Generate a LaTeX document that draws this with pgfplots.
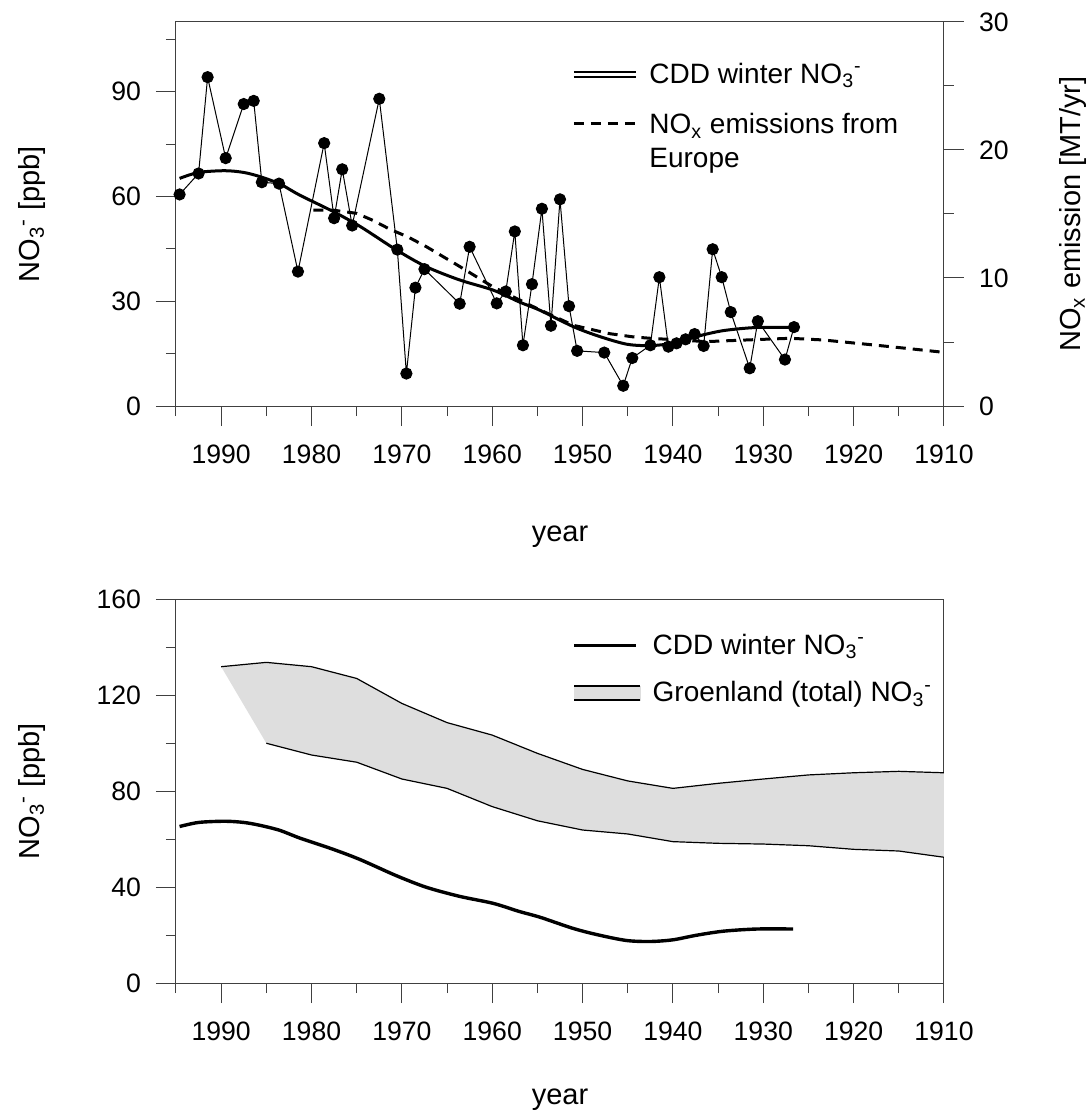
\documentclass[border=0pt]{standalone}
\usepackage{fontspec}
\setmainfont{Liberation Sans}
\usepackage{pgfplots}
\pgfplotsset{compat=1.18}
\begin{document}
\begin{tikzpicture}
\useasboundingbox (0,0) rectangle (545.5pt,-558.5pt);
\pgfplotsset{
  base/.style={
    scale only axis, width=384pt, height=192pt,
    x dir=reverse, xmin=1910, xmax=1995,
    xtick={1910,1920,...,1990}, minor xtick={1915,1925,...,1995},
    tick align=outside, major tick length=10pt, minor tick length=5pt,
    every tick/.append style={black!75, line width=0.5pt},
    axis line style={black!75, line width=0.5pt},
    xtick pos=bottom, ytick pos=left,
    tick label style={font=\fontsize{13.3}{16}\selectfont},
    xticklabel style={yshift=-6pt},
    yticklabel style={xshift=-4pt},
    label style={font=\fontsize{14.5}{17}\selectfont},
    xlabel={year},
    xlabel style={at={(axis description cs:0.5,0)}, anchor=center, yshift=-65.5pt},
    ylabel style={at={(axis description cs:0,0.5)}, anchor=center, yshift=72pt},
    /pgf/number format/assume math mode=true,
    /pgf/number format/1000 sep={},
    legend style={draw=none, fill=none, inner sep=0pt, legend cell align=left,
      font=\fontsize{14}{17}\selectfont, row sep=8pt,
      nodes={inner sep=2pt},
      /tikz/every odd column/.append style={column sep=4pt}},
  }
}
% ---------------- top panel ----------------
\begin{axis}[base, at={(88pt,-11pt)}, anchor=north west,
  ymin=0, ymax=110, ytick={0,30,60,90}, minor ytick={15,45,75,105},
  ylabel={NO\textsubscript{3}\textsuperscript{-} [ppb]},
  legend style={at={(axis description cs:0.5156,0.905)}, anchor=north west}]
\addplot[black, line width=0.5pt, mark=*, mark size=2.8pt, mark options={fill=black}, forget plot] coordinates {
(1994.6,60.6) (1992.5,66.6) (1991.5,94.2) (1989.5,71.0) (1987.5,86.5) (1986.4,87.4)
(1985.5,64.1) (1983.6,63.7) (1981.5,38.5) (1978.6,75.3) (1977.5,53.8) (1976.6,67.8)
(1975.5,51.7) (1972.5,88.0) (1970.5,44.8) (1969.5,9.3) (1968.5,33.9) (1967.5,39.2)
(1963.6,29.3) (1962.5,45.6) (1959.5,29.4) (1958.5,32.8) (1957.5,50.0) (1956.6,17.4)
(1955.6,34.9) (1954.5,56.5) (1953.5,23.0) (1952.5,59.2) (1951.5,28.6) (1950.6,15.8)
(1947.6,15.3) (1945.5,5.8) (1944.5,13.75) (1942.5,17.4) (1941.5,36.9) (1940.5,17.0)
(1939.6,17.95) (1938.6,19.1) (1937.6,20.6) (1936.6,17.2) (1935.6,44.9) (1934.6,36.9)
(1933.6,26.9) (1931.5,10.8) (1930.6,24.3) (1927.6,13.3) (1926.6,22.6)};
\addplot[black, line width=1.5pt, smooth, forget plot] coordinates {
(1994.6,65.2) (1992.5,66.9) (1989.6,67.4) (1987.5,66.9) (1985.7,65.7) (1983.5,63.6)
(1981.3,60.4) (1977.6,55.7) (1974.6,51.4) (1970.6,44.7) (1967.3,39.9) (1963.6,36.1)
(1959.9,33.2) (1957.0,29.8) (1954.7,27.4) (1951.0,22.7) (1948.1,19.9) (1945.1,17.7)
(1942.5,17.3) (1940.0,18.0) (1937.4,19.9) (1934.4,21.6) (1930.7,22.5) (1926.7,22.5)};
\addlegendimage{legend image code/.code={
  \draw[line width=1.1pt] (0pt,1.4pt)--(31pt,1.4pt);
  \draw[line width=0.7pt] (0pt,-1.2pt)--(31pt,-1.2pt);}}
\addlegendentry{CDD winter NO\textsubscript{3}\textsuperscript{-}}
\addlegendimage{legend image code/.code={
  \draw[line width=1.5pt, dash pattern=on 5pt off 3.5pt] (0pt,0pt)--(31pt,0pt);}}
\addlegendentry{\begin{tabular}[t]{@{}l@{}}NO\textsubscript{x} emissions from\\Europe\end{tabular}}
\end{axis}
\begin{axis}[scale only axis, width=384pt, height=192pt, at={(88pt,-11pt)}, anchor=north west,
  x dir=reverse, xmin=1910, xmax=1995, axis x line=none,
  axis y line*=right, ymin=0, ymax=30, ytick={0,10,20,30}, minor ytick={5,15,25},
  tick align=outside, major tick length=10pt, minor tick length=5pt,
  every tick/.append style={black!75, line width=0.5pt},
  axis line style={black!75, line width=0.5pt},
  tick label style={font=\fontsize{13.3}{16}\selectfont},
  yticklabel style={xshift=4pt},
  /pgf/number format/assume math mode=true,
  ylabel={NO\textsubscript{x} emission [MT/yr]},
  ylabel style={font=\fontsize{14.5}{17}\selectfont, at={(axis description cs:1,0.5)}, anchor=center, yshift=-64.5pt}]
\addplot[black, line width=1.5pt, dash pattern=on 5pt off 3.5pt] coordinates {
(1979.8,15.3) (1977.6,15.3) (1975,15.05) (1973.2,14.5) (1971.3,13.8) (1969.3,13.2)
(1967.3,12.45) (1963.6,10.9) (1959.9,9.3) (1955,7.6) (1951,6.3) (1947,5.65) (1944.4,5.4)
(1942.5,5.29) (1936.3,5.03) (1931.8,5.16) (1927,5.29) (1923.4,5.16) (1917.8,4.77)
(1914.1,4.5) (1910,4.19)};
\end{axis}
% ---------------- bottom panel ----------------
\begin{axis}[base, at={(88pt,-299.5pt)}, anchor=north west,
  ymin=0, ymax=160, ytick={0,40,...,160}, minor ytick={20,60,100,140},
  xlabel style={yshift=7pt},
  ylabel={NO\textsubscript{3}\textsuperscript{-} [ppb]},
  legend style={at={(axis description cs:0.5156,0.92)}, anchor=north west}]
\addplot[fill=black!13, draw=none, forget plot] coordinates {
(1990,131.8) (1985,133.6) (1980,131.8) (1975,126.9) (1970,116.5) (1965,108.5) (1960,103.3)
(1955,95.7) (1950,89.0) (1945,84.2) (1940,81.1) (1935,83.2) (1930,85.0) (1925,86.7)
(1920,87.6) (1915,88.2) (1910,87.6)
(1910,52.4) (1915,55) (1920,55.7) (1925,57.2) (1930,57.9) (1935,58.2) (1940,58.9)
(1945,62.1) (1950,63.75) (1955,67.6) (1960,73.5) (1965,81.1) (1970,85) (1975,92)
(1980,95) (1985,99.9)} -- cycle;
\addplot[black, line width=0.6pt, forget plot] coordinates {
(1990,131.8) (1985,133.6) (1980,131.8) (1975,126.9) (1970,116.5) (1965,108.5) (1960,103.3)
(1955,95.7) (1950,89.0) (1945,84.2) (1940,81.1) (1935,83.2) (1930,85.0) (1925,86.7)
(1920,87.6) (1915,88.2) (1910,87.6)};
\addplot[black, line width=0.6pt, forget plot] coordinates {
(1985,99.9) (1980,95) (1975,92) (1970,85) (1965,81.1) (1960,73.5) (1955,67.6)
(1950,63.75) (1945,62.1) (1940,58.9) (1935,58.2) (1930,57.9) (1925,57.2) (1920,55.7)
(1915,55) (1910,52.4)};
\addplot[black, line width=1.7pt, smooth, forget plot] coordinates {
(1994.6,65.2) (1992.5,66.9) (1989.6,67.4) (1987.5,66.9) (1985.7,65.7) (1983.5,63.6)
(1981.3,60.4) (1977.6,55.7) (1974.6,51.4) (1970.6,44.7) (1967.3,39.9) (1963.6,36.1)
(1959.9,33.2) (1957.0,29.8) (1954.7,27.4) (1951.0,22.7) (1948.1,19.9) (1945.1,17.7)
(1942.5,17.3) (1940.0,18.0) (1937.4,19.9) (1934.4,21.6) (1930.7,22.5) (1926.7,22.5)};
\addlegendimage{legend image code/.code={
  \draw[line width=1.7pt] (0pt,0pt)--(31pt,0pt);}}
\addlegendentry{CDD winter NO\textsubscript{3}\textsuperscript{-}}
\addlegendimage{legend image code/.code={
  \fill[black!13] (0pt,-3.5pt) rectangle (33pt,3.5pt);
  \draw[line width=0.6pt] (0pt,3.5pt)--(33pt,3.5pt);
  \draw[line width=0.6pt] (0pt,-3.5pt)--(33pt,-3.5pt);}}
\addlegendentry{Groenland (total) NO\textsubscript{3}\textsuperscript{-}}
\end{axis}
\end{tikzpicture}
\end{document}
